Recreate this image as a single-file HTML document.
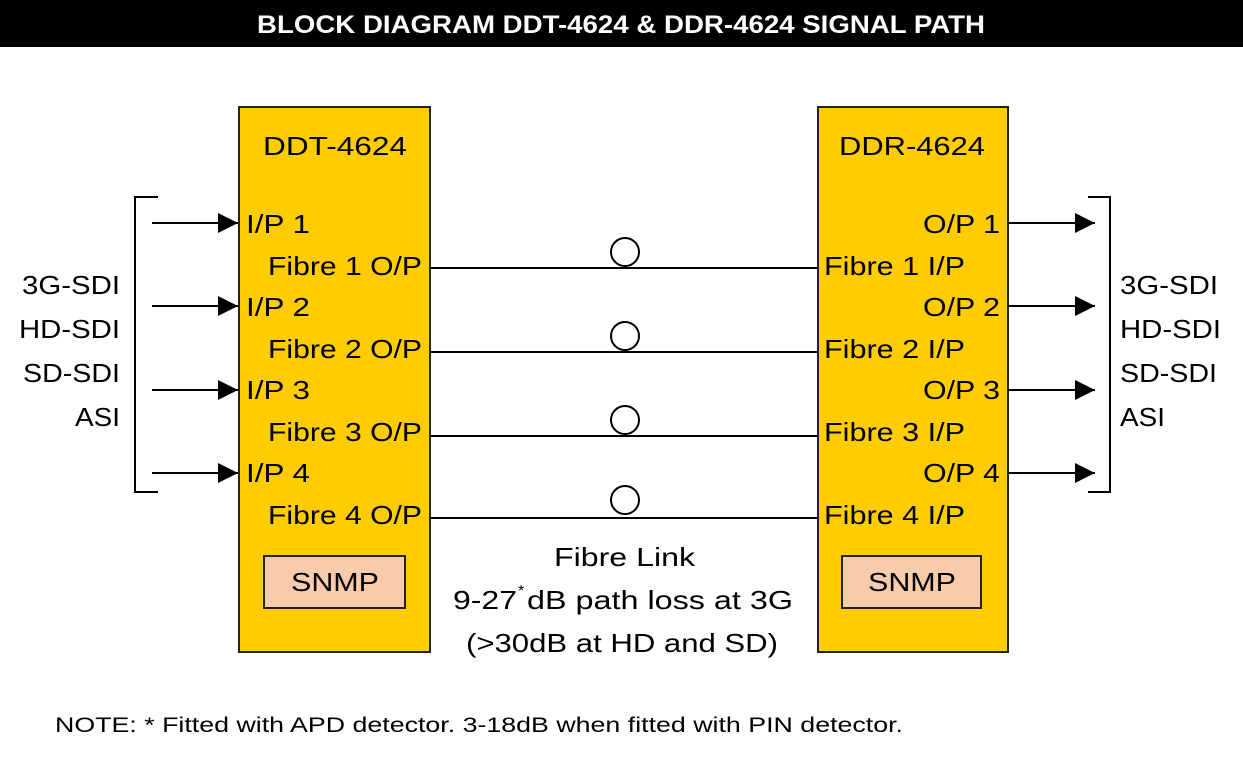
<!DOCTYPE html>
<html><head><meta charset="utf-8"><style>html,body{margin:0;padding:0;background:#fff}svg{display:block}</style></head>
<body>
<svg width="1243" height="784" viewBox="0 0 1243 784" xmlns="http://www.w3.org/2000/svg" font-family="Liberation Sans, sans-serif" font-size="26" fill="#000">
<defs><marker id="a" markerWidth="20" markerHeight="20" refX="20" refY="10" orient="auto" markerUnits="userSpaceOnUse"><path d="M0,0 L20,10 L0,20 Z" fill="#000"/></marker></defs>
<rect x="0" y="0" width="1243" height="47" fill="#000"/>
<text x="621" y="33" text-anchor="middle" fill="#fff" font-weight="bold" font-size="25" textLength="728" lengthAdjust="spacingAndGlyphs">BLOCK DIAGRAM DDT-4624 &amp; DDR-4624 SIGNAL PATH</text>

<rect x="239" y="107" width="191" height="545" fill="#FFCC00" stroke="#222" stroke-width="2"/>
<rect x="818" y="107" width="190" height="545" fill="#FFCC00" stroke="#222" stroke-width="2"/>
<rect x="264" y="556" width="141" height="52" fill="#F8CBAD" stroke="#222" stroke-width="2"/>
<rect x="842" y="556" width="139" height="52" fill="#F8CBAD" stroke="#222" stroke-width="2"/>
<text x="291" y="591" textLength="88" lengthAdjust="spacingAndGlyphs">SNMP</text>
<text x="868" y="591" textLength="88" lengthAdjust="spacingAndGlyphs">SNMP</text>

<text x="263" y="155" textLength="144" lengthAdjust="spacingAndGlyphs">DDT-4624</text>
<text x="839" y="155" textLength="146" lengthAdjust="spacingAndGlyphs">DDR-4624</text>

<g stroke="#000" stroke-width="2" fill="none">
<path d="M158,197 H135 V492 H158"/>
<path d="M1088,197 H1110 V492 H1088"/>
<line x1="152" y1="223" x2="238" y2="223" marker-end="url(#a)"/>
<line x1="152" y1="306" x2="238" y2="306" marker-end="url(#a)"/>
<line x1="152" y1="390" x2="238" y2="390" marker-end="url(#a)"/>
<line x1="152" y1="473" x2="238" y2="473" marker-end="url(#a)"/>
<line x1="1008" y1="223" x2="1095" y2="223" marker-end="url(#a)"/>
<line x1="1008" y1="306" x2="1095" y2="306" marker-end="url(#a)"/>
<line x1="1008" y1="390" x2="1095" y2="390" marker-end="url(#a)"/>
<line x1="1008" y1="473" x2="1095" y2="473" marker-end="url(#a)"/>
<line x1="430" y1="268" x2="818" y2="268"/>
<line x1="430" y1="352" x2="818" y2="352"/>
<line x1="430" y1="436" x2="818" y2="436"/>
<line x1="430" y1="518" x2="818" y2="518"/>
<circle cx="625" cy="252" r="14" fill="#fff"/>
<circle cx="625" cy="336" r="14" fill="#fff"/>
<circle cx="625" cy="420" r="14" fill="#fff"/>
<circle cx="625" cy="500" r="14" fill="#fff"/>
</g>

<g>
<text x="246" y="233" textLength="64" lengthAdjust="spacingAndGlyphs">I/P 1</text>
<text x="246" y="316" textLength="64" lengthAdjust="spacingAndGlyphs">I/P 2</text>
<text x="246" y="399" textLength="64" lengthAdjust="spacingAndGlyphs">I/P 3</text>
<text x="246" y="482" textLength="64" lengthAdjust="spacingAndGlyphs">I/P 4</text>
<text x="268" y="275" textLength="154" lengthAdjust="spacingAndGlyphs">Fibre 1 O/P</text>
<text x="268" y="358" textLength="154" lengthAdjust="spacingAndGlyphs">Fibre 2 O/P</text>
<text x="268" y="441" textLength="154" lengthAdjust="spacingAndGlyphs">Fibre 3 O/P</text>
<text x="268" y="524" textLength="154" lengthAdjust="spacingAndGlyphs">Fibre 4 O/P</text>
<text x="923" y="233" textLength="77" lengthAdjust="spacingAndGlyphs">O/P 1</text>
<text x="923" y="316" textLength="77" lengthAdjust="spacingAndGlyphs">O/P 2</text>
<text x="923" y="399" textLength="77" lengthAdjust="spacingAndGlyphs">O/P 3</text>
<text x="923" y="482" textLength="77" lengthAdjust="spacingAndGlyphs">O/P 4</text>
<text x="824" y="275" textLength="141" lengthAdjust="spacingAndGlyphs">Fibre 1 I/P</text>
<text x="824" y="358" textLength="141" lengthAdjust="spacingAndGlyphs">Fibre 2 I/P</text>
<text x="824" y="441" textLength="141" lengthAdjust="spacingAndGlyphs">Fibre 3 I/P</text>
<text x="824" y="524" textLength="141" lengthAdjust="spacingAndGlyphs">Fibre 4 I/P</text>

<text x="22" y="294" textLength="98" lengthAdjust="spacingAndGlyphs">3G-SDI</text>
<text x="19" y="338" textLength="101" lengthAdjust="spacingAndGlyphs">HD-SDI</text>
<text x="23" y="382" textLength="97" lengthAdjust="spacingAndGlyphs">SD-SDI</text>
<text x="75" y="426" textLength="45" lengthAdjust="spacingAndGlyphs">ASI</text>
<text x="1120" y="294" textLength="98" lengthAdjust="spacingAndGlyphs">3G-SDI</text>
<text x="1120" y="338" textLength="101" lengthAdjust="spacingAndGlyphs">HD-SDI</text>
<text x="1120" y="382" textLength="97" lengthAdjust="spacingAndGlyphs">SD-SDI</text>
<text x="1120" y="426" textLength="45" lengthAdjust="spacingAndGlyphs">ASI</text>

<text x="554" y="566" textLength="141" lengthAdjust="spacingAndGlyphs">Fibre Link</text>
<text x="453" y="609" textLength="64" lengthAdjust="spacingAndGlyphs">9-27</text>
<text x="518" y="596" font-size="16">*</text>
<text x="527" y="609" textLength="266" lengthAdjust="spacingAndGlyphs">dB path loss at 3G</text>
<text x="466" y="652" textLength="312" lengthAdjust="spacingAndGlyphs">(&gt;30dB at HD and SD)</text>
<text x="55" y="732" font-size="21" textLength="848" lengthAdjust="spacingAndGlyphs">NOTE: * Fitted with APD detector. 3-18dB when fitted with PIN detector.</text>
</g>
</svg>
</body></html>
